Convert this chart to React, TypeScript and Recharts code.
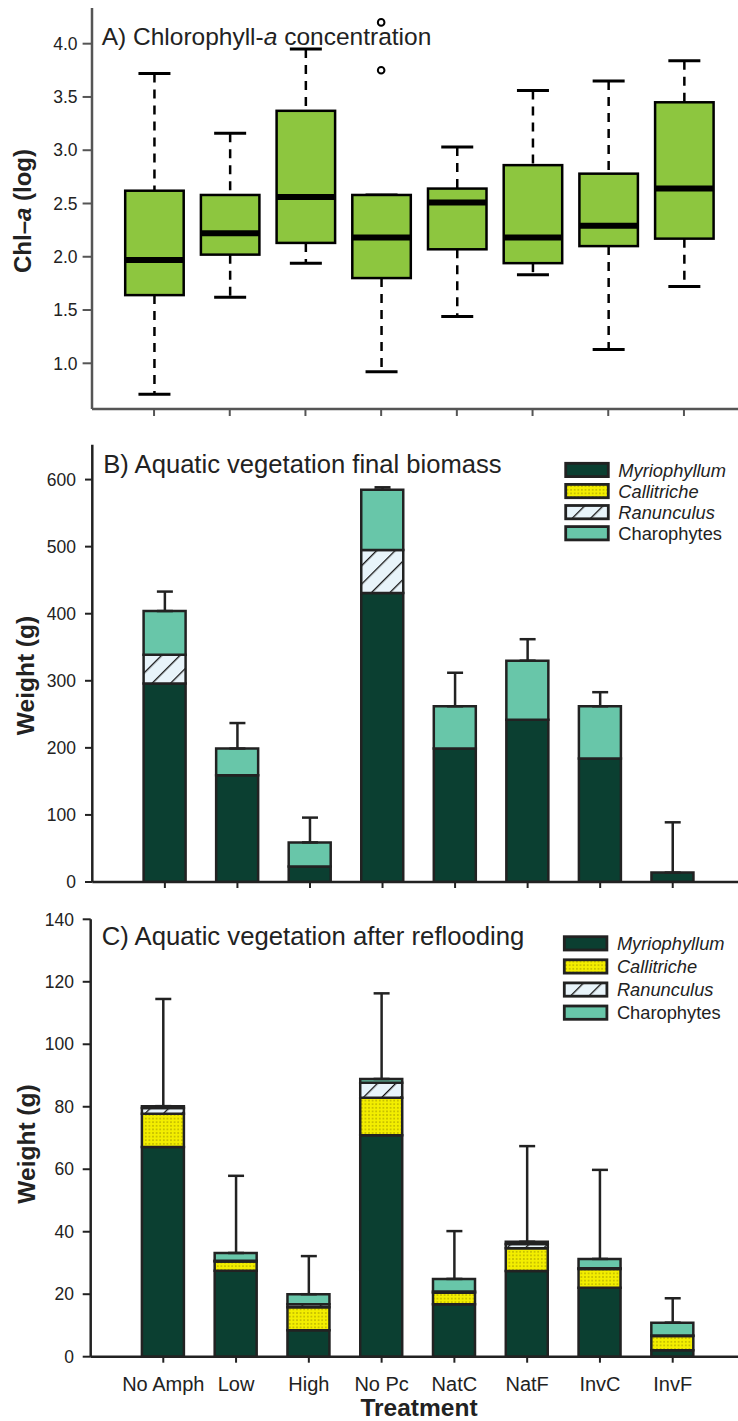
import React from 'react'
import { ComposedChart, Bar, Scatter, ErrorBar, XAxis, YAxis } from 'recharts'

const FONT = "'Liberation Sans', Arial, Helvetica, sans-serif"
const INK = '#222'
const FRAME_A = '#555'

const TREATMENTS = ['No Amph', 'Low', 'High', 'No Pc', 'NatC', 'NatF', 'InvC', 'InvF']

// Chl-a (log) box plot summaries
const CHL_LOW = [0.71, 1.62, 1.94, 0.92, 1.44, 1.83, 1.13, 1.72]
const CHL_Q1 = [1.64, 2.02, 2.13, 1.8, 2.07, 1.94, 2.1, 2.17]
const CHL_MEDIAN = [1.97, 2.22, 2.56, 2.18, 2.51, 2.18, 2.29, 2.64]
const CHL_Q3 = [2.62, 2.58, 3.37, 2.58, 2.64, 2.86, 2.78, 3.45]
const CHL_HIGH = [3.72, 3.16, 3.95, 2.58, 3.03, 3.56, 3.65, 3.84]
const OUTLIER_GROUPS = ['No Pc', 'No Pc']
const OUTLIER_VALUES = [4.2, 3.75]
const CHL_TICKS = [1, 1.5, 2, 2.5, 3, 3.5, 4]

// final biomass (g)
const FINAL_MYR = [296, 159, 23, 431, 199, 242, 184, 14]
const FINAL_CAL = [0, 0, 0, 0, 0, 0, 0, 0]
const FINAL_RAN = [43, 0, 0, 64, 0, 0, 0, 0]
const FINAL_CHA = [65, 40, 36, 90, 63, 88, 78, 0]
const FINAL_SE = [29, 38, 37, 3.5, 50, 32, 21, 75]
const FINAL_TICKS = [0, 100, 200, 300, 400, 500, 600]

// biomass after reflooding (g)
const REFLOOD_MYR = [67.1, 27.5, 8.5, 70.9, 16.8, 27.4, 22.1, 2.1]
const REFLOOD_CAL = [10.7, 3.0, 7.3, 12.0, 3.7, 7.3, 6.0, 4.5]
const REFLOOD_RAN = [1.8, 0.2, 1.0, 4.8, 0.4, 1.4, 0.2, 0.2]
const REFLOOD_CHA = [0.6, 2.5, 3.2, 1.2, 4.0, 0.7, 3.0, 4.1]
const REFLOOD_SE = [34.3, 24.7, 12.2, 27.4, 15.3, 30.6, 28.5, 7.8]
const REFLOOD_TICKS = [0, 20, 40, 60, 80, 100, 120, 140]

const SPECIES = [
  { key: 'myr', label: 'Myriophyllum', fill: '#0b3f31', italic: true },
  { key: 'cal', label: 'Callitriche', fill: 'url(#callitriche-dots)', italic: true },
  { key: 'ran', label: 'Ranunculus', fill: 'url(#ranunculus-hatch)', italic: true },
  { key: 'cha', label: 'Charophytes', fill: '#68c6a9', italic: false },
]

const boxData = TREATMENTS.map((name, i) => ({
  name,
  range: [CHL_LOW[i], CHL_HIGH[i]],
  q1: CHL_Q1[i],
  median: CHL_MEDIAN[i],
  q3: CHL_Q3[i],
}))
const outlierData = OUTLIER_GROUPS.map((name, i) => ({ name, chl: OUTLIER_VALUES[i] }))

function stackRows(myr: number[], cal: number[], ran: number[], cha: number[], se: number[]) {
  return TREATMENTS.map((name, i) => ({
    name,
    myr: myr[i],
    cal: cal[i],
    ran: ran[i],
    cha: cha[i],
    total: myr[i] + cal[i] + ran[i] + cha[i],
    se: [0, se[i]],
  }))
}
const finalData = stackRows(FINAL_MYR, FINAL_CAL, FINAL_RAN, FINAL_CHA, FINAL_SE)
const refloodData = stackRows(REFLOOD_MYR, REFLOOD_CAL, REFLOOD_RAN, REFLOOD_CHA, REFLOOD_SE)

const tickText = { fontSize: 17.5, fill: INK, fontFamily: FONT }

// whiskers, box and median drawn inside the [low, high] bar geometry
function BoxShape(props: any) {
  const { x, y, width, height, payload } = props
  if (!payload || !Number.isFinite(y) || !Number.isFinite(height)) return <g />
  const [lo, hi] = payload.range
  const toY = (v: number) => y + (height * (hi - v)) / (hi - lo)
  const cx = x + width / 2
  const cap = 16
  const yQ1 = toY(payload.q1)
  const yQ3 = toY(payload.q3)
  const yMed = toY(payload.median)
  const yLo = y + height
  return (
    <g>
      <line x1={cx} x2={cx} y1={y} y2={yQ3} stroke="#000" strokeWidth={2.5} strokeDasharray="9 7" />
      <line x1={cx} x2={cx} y1={yQ1} y2={yLo} stroke="#000" strokeWidth={2.5} strokeDasharray="9 7" />
      <line x1={cx - cap} x2={cx + cap} y1={y} y2={y} stroke="#000" strokeWidth={3} />
      <line x1={cx - cap} x2={cx + cap} y1={yLo} y2={yLo} stroke="#000" strokeWidth={3} />
      <rect x={x} y={yQ3} width={width} height={yQ1 - yQ3} fill="#8dc63f" stroke="#000" strokeWidth={2.5} />
      <line x1={x} x2={x + width} y1={yMed} y2={yMed} stroke="#000" strokeWidth={6} />
    </g>
  )
}

function OutlierDot(props: any) {
  const { cx, cy } = props
  if (!Number.isFinite(cx) || !Number.isFinite(cy)) return <g />
  return <circle cx={cx} cy={cy} r={3.3} fill="#fff" stroke="#000" strokeWidth={2} />
}

const Nothing = () => <g />

function ChlPanel() {
  return (
    <ComposedChart
      width={760}
      height={430}
      data={boxData}
      margin={{ top: 8, right: 14, bottom: 0, left: 0 }}
    >
      <XAxis
        dataKey="name"
        allowDuplicatedCategory={false}
        height={21}
        padding={{ left: 24.2, right: 24.2 }}
        tickFormatter={() => ''}
        tickSize={7}
        axisLine={{ stroke: FRAME_A, strokeWidth: 2.5 }}
        tickLine={{ stroke: FRAME_A, strokeWidth: 2 }}
      />
      <XAxis
        xAxisId="top"
        orientation="top"
        dataKey="name"
        allowDuplicatedCategory={false}
        height={0}
        tick={false}
        tickLine={false}
        axisLine={{ stroke: FRAME_A, strokeWidth: 2.5 }}
      />
      <YAxis
        type="number"
        domain={[0.571, 4.335]}
        ticks={CHL_TICKS}
        interval={0}
        allowDataOverflow
        width={92}
        tickSize={9.4}
        tickMargin={5}
        tickFormatter={(v: number) => v.toFixed(1)}
        tick={tickText}
        axisLine={{ stroke: FRAME_A, strokeWidth: 2.5 }}
        tickLine={{ stroke: FRAME_A, strokeWidth: 2 }}
      />
      <Bar dataKey="range" barSize={58.5} shape={(p: any) => <BoxShape {...p} />} isAnimationActive={false} />
      <Scatter data={outlierData} dataKey="chl" shape={(p: any) => <OutlierDot {...p} />} isAnimationActive={false} />
    </ComposedChart>
  )
}

interface StackProps {
  data: ReturnType<typeof stackRows>
  height: number
  top: number
  left: number
  xHeight: number
  yMax: number
  ticks: number[]
  tickSize: number
  tickMargin: number
  pad: number
  showLabels: boolean
}

function StackPanel({ data, height, top, left, xHeight, yMax, ticks, tickSize, tickMargin, pad, showLabels }: StackProps) {
  return (
    <ComposedChart
      width={760}
      height={height}
      data={data}
      margin={{ top, right: 14.7, bottom: 0, left: 0 }}
    >
      <XAxis
        dataKey="name"
        allowDuplicatedCategory={false}
        height={xHeight}
        padding={{ left: pad, right: pad }}
        interval={0}
        tickFormatter={showLabels ? undefined : () => ''}
        tick={{ fontSize: 20, fill: INK, fontFamily: FONT }}
        tickSize={6}
        tickMargin={14}
        axisLine={{ stroke: INK, strokeWidth: 2.5 }}
        tickLine={{ stroke: INK, strokeWidth: 2 }}
      />
      <XAxis
        xAxisId="top"
        orientation="top"
        dataKey="name"
        allowDuplicatedCategory={false}
        height={0}
        tick={false}
        tickLine={false}
        axisLine={{ stroke: INK, strokeWidth: 2.5 }}
      />
      <YAxis
        type="number"
        domain={[0, yMax]}
        ticks={ticks}
        interval={0}
        allowDataOverflow
        width={left}
        tickSize={tickSize}
        tickMargin={tickMargin}
        tick={tickText}
        axisLine={{ stroke: INK, strokeWidth: 2.5 }}
        tickLine={{ stroke: INK, strokeWidth: 2 }}
      />
      {SPECIES.map((s) => (
        <Bar
          key={s.key}
          dataKey={s.key}
          stackId="veg"
          barSize={42}
          fill={s.fill}
          stroke={INK}
          strokeWidth={2.5}
          isAnimationActive={false}
        />
      ))}
      <Scatter dataKey="total" shape={Nothing} isAnimationActive={false}>
        <ErrorBar dataKey="se" direction="y" width={8} stroke={INK} strokeWidth={2.5} />
      </Scatter>
    </ComposedChart>
  )
}

function LegendBlock({ x, y, pitch }: { x: number; y: number; pitch: number }) {
  return (
    <g>
      {SPECIES.map((s, i) => (
        <g key={s.key} transform={`translate(${x},${y + i * pitch})`}>
          <rect x={0} y={0} width={42.6} height={13.3} fill={s.fill} stroke={INK} strokeWidth={2.8} />
          <text
            x={52.6}
            y={6.65}
            dy="0.36em"
            fontSize={18.3}
            fill={INK}
            fontStyle={s.italic ? 'italic' : 'normal'}
          >
            {s.label}
          </text>
        </g>
      ))}
    </g>
  )
}

function Overlay() {
  return (
    <svg
      width={738}
      height={1421}
      fontFamily={FONT}
      style={{ position: 'absolute', left: 0, top: 0, pointerEvents: 'none' }}
    >
      <defs>
        <pattern id="callitriche-dots" patternUnits="userSpaceOnUse" width={3.6} height={3.6}>
          <rect width={3.6} height={3.6} fill="#f3ee00" />
          <circle cx={1.8} cy={1.8} r={0.8} fill="#b3ab00" />
        </pattern>
        <pattern
          id="ranunculus-hatch"
          patternUnits="userSpaceOnUse"
          width={13}
          height={13}
          patternTransform="rotate(45)"
        >
          <rect width={13} height={13} fill="#e8f4fa" />
          <line x1={0} y1={0} x2={0} y2={13} stroke="#111" strokeWidth={2.6} />
        </pattern>
      </defs>

      <text x={101.7} y={45} fontSize={24.5} fill={INK}>
        A) Chlorophyll-<tspan fontStyle="italic">a</tspan> concentration
      </text>
      <text x={103.3} y={473.3} fontSize={25.6} fill={INK}>
        B) Aquatic vegetation final biomass
      </text>
      <text x={101.7} y={945} fontSize={25.7} fill={INK}>
        C) Aquatic vegetation after reflooding
      </text>

      <text transform="translate(30.5,211) rotate(-90)" textAnchor="middle" fontSize={24} fontWeight="bold" fill={INK}>
        Chl–<tspan fontStyle="italic">a</tspan> (log)
      </text>
      <text transform="translate(34,675.5) rotate(-90)" textAnchor="middle" fontSize={24.5} fontWeight="bold" fill={INK}>
        Weight (g)
      </text>
      <text transform="translate(35,1144) rotate(-90)" textAnchor="middle" fontSize={24.5} fontWeight="bold" fill={INK}>
        Weight (g)
      </text>
      <text x={419} y={1416} textAnchor="middle" fontSize={24.5} fontWeight="bold" fill={INK}>
        Treatment
      </text>

      <LegendBlock x={565.7} y={463.3} pitch={21.1} />
      <LegendBlock x={564.3} y={936.7} pitch={23.1} />
    </svg>
  )
}

export default function App() {
  return (
    <div
      style={{
        position: 'absolute',
        left: 0,
        top: 0,
        width: 738,
        height: 1421,
        overflow: 'hidden',
        background: '#fff',
        fontFamily: FONT,
      }}
    >
      <div style={{ position: 'absolute', left: 0, top: 0 }}>
        <ChlPanel />
      </div>
      <div style={{ position: 'absolute', left: 0, top: 430 }}>
        <StackPanel
          data={finalData}
          height={472}
          top={14.7}
          left={92.3}
          xHeight={20}
          yMax={652}
          ticks={FINAL_TICKS}
          tickSize={7.3}
          tickMargin={9}
          pad={36.3}
          showLabels={false}
        />
      </div>
      <div style={{ position: 'absolute', left: 0, top: 890 }}>
        <StackPanel
          data={refloodData}
          height={531}
          top={29.3}
          left={90.7}
          xHeight={64.3}
          yMax={140}
          ticks={REFLOOD_TICKS}
          tickSize={8}
          tickMargin={8.7}
          pad={36.2}
          showLabels
        />
      </div>
      <Overlay />
    </div>
  )
}
